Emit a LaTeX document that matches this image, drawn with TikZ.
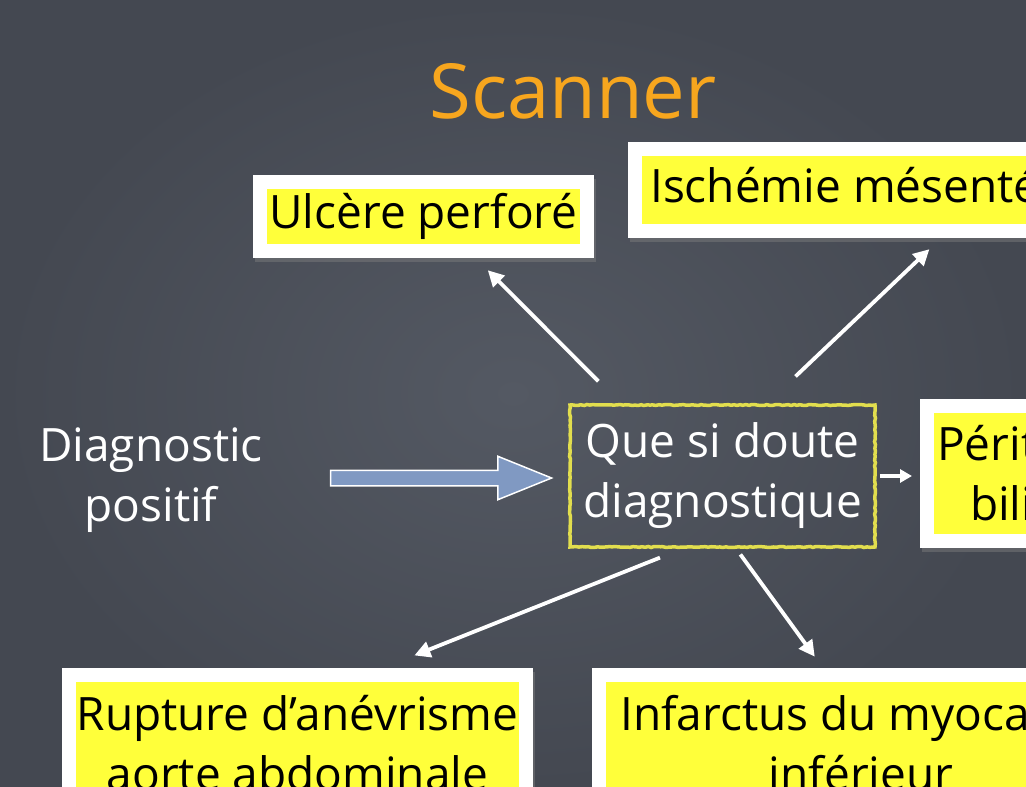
\documentclass[tikz,border=0pt]{standalone}
\usepackage{fontspec}
\setmainfont{Open Sans}
\usetikzlibrary{arrows.meta,shapes.arrows,shadows,decorations.pathmorphing}

\definecolor{ardoise}{RGB}{68,72,81}
\definecolor{ardoiseclaire}{RGB}{84,89,99}
\definecolor{orangetitre}{RGB}{247,166,30}
\definecolor{surligne}{RGB}{255,255,58}
\definecolor{craie}{RGB}{226,222,78}
\definecolor{bleufleche}{RGB}{128,153,194}

\begin{document}
\begin{tikzpicture}[x=1pt,y=-1pt]
      \tikzstyle{boite}=[rectangle,fill=white,inner xsep=22pt,inner ysep=27pt,
        align=center,text=black,font=\fontsize{46}{60}\selectfont,
        drop shadow={shadow xshift=2pt,shadow yshift=-4pt,opacity=0.45},
        path picture={\fill[surligne]
          ([shift={(14pt,14pt)}]path picture bounding box.south west) rectangle
          ([shift={(-14pt,-14pt)}]path picture bounding box.north east);}]
      \tikzstyle{texte}=[align=center,text=white,font=\fontsize{46}{60}\selectfont]
      \tikzstyle{cadre}=[texte,draw=craie,line width=3.5pt,
        minimum width=305pt,minimum height=142pt,
        decorate,decoration={random steps,segment length=3pt,amplitude=0.5pt}]

      \useasboundingbox (0,0) rectangle (1026,787);
      \clip (0,0) rectangle (1026,787);
      \fill[ardoise] (0,0) rectangle (1026,787);
      \shade[inner color=ardoiseclaire,outer color=ardoise] (0,0) rectangle (1026,787);

      \node[text=orangetitre,font=\fontsize{76}{80}\selectfont] (titre) at (573,91) {Scanner};

      \node[boite,minimum width=341pt,minimum height=83pt,inner sep=4pt]
        (ulcere) at (423.5,216.5) {Ulcère perforé};
      \node[boite,anchor=west,minimum height=96pt,inner ysep=4pt]
        (ischemie) at (628,190) {Ischémie mésentérique};
      \node[cadre] (doute) at (722.5,476) {Que si doute\\diagnostique};
      \node[boite,anchor=west,minimum height=149pt,inner xsep=17pt,inner ysep=4pt]
        (peritonite) at (920,473.5) {Péritonite\\biliaire};
      \node[texte] (diag) at (151,480) {Diagnostic\\positif};
      \node[boite,anchor=north,minimum width=471pt,inner xsep=14pt] (rupture) at (297.5,668)
        {Rupture d’anévrisme\\aorte abdominale};
      \node[boite,anchor=north west,inner xsep=28pt] (infarctus) at (592,668)
        {Infarctus du myocarde\\inférieur};

      % grosse fleche
      \node[single arrow,fill=bleufleche,draw=white,line width=1.5pt,
        minimum height=221pt,inner xsep=0pt,inner ysep=7pt,
        single arrow head extend=14pt,single arrow tip angle=44,
        single arrow head indent=0pt] (fleche) at (431.5,478) {};

      \tikzstyle{fl}=[-{Triangle[length=16pt,width=16pt]},white,line width=3.8pt]

      \draw[fl,shorten <=31pt,shorten >=17pt]
        ([xshift=52pt]doute.north west) -- ([xshift=223pt]ulcere.south west);
      \draw[fl,shorten <=39pt,shorten >=16pt]
        ([xshift=199pt]doute.north west) -- ([xshift=313pt]ischemie.south west);
      \draw[fl,shorten <=24pt,shorten >=34pt]
        ([xshift=114pt]doute.south west) -- ([xshift=321pt]rupture.north west);
      \draw[fl,shorten <=7pt,shorten >=14pt]
        ([xshift=168pt]doute.south west) -- ([xshift=231pt]infarctus.north west);
      \draw[fl,-{Triangle[length=12pt,width=13pt]},shorten <=3pt,shorten >=8pt]
        (doute.east) -- (doute.east -| peritonite.west);
    \end{tikzpicture}
\end{document}
